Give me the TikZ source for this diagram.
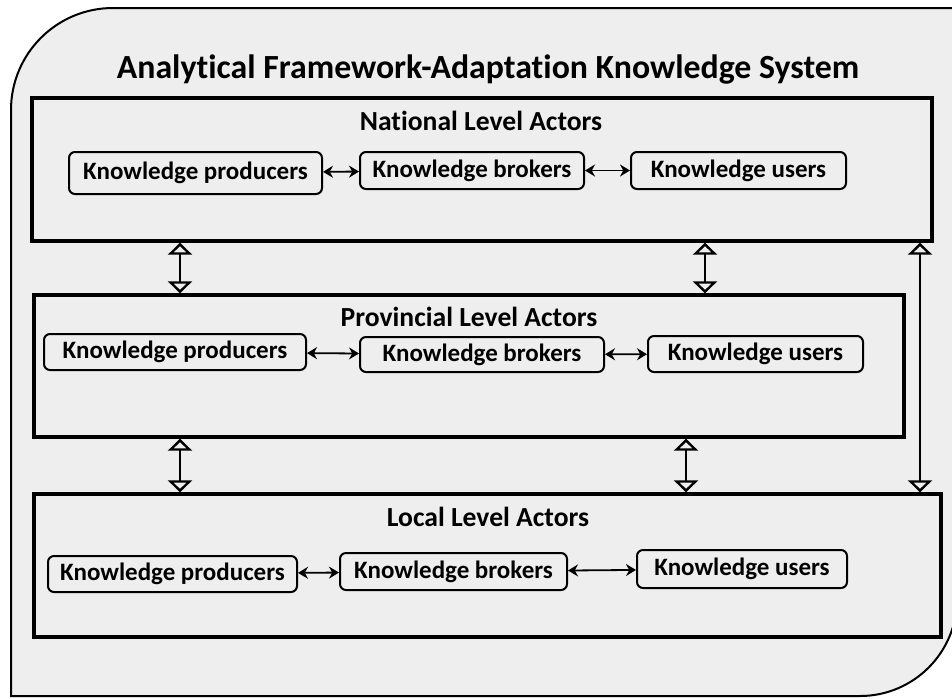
\documentclass[tikz,border=0pt]{standalone}
\usepackage{fontspec}
\setmainfont{Carlito}[Ligatures=CommonOff]
\usepackage{tikz}
\usetikzlibrary{arrows.meta,positioning,fit}
\definecolor{panel}{HTML}{EEEEEE}
\tikzset{font=\bfseries\fontsize{12.5}{15}\selectfont}
\tikzstyle{actor}=[draw,rounded corners=3pt,line width=1pt,inner sep=0pt,minimum height=18.5pt]
\tikzstyle{level}=[draw,line width=1.7pt,inner sep=0pt]
\tikzstyle{head}=[font=\bfseries\fontsize{13.8}{16}\selectfont,anchor=base]
\tikzstyle{link}=[{Stealth[length=5pt,width=6pt]}-{Stealth[length=5pt,width=6pt]},line width=0.9pt]
\tikzstyle{flow}=[double=panel,double distance=2.8pt,line width=1.2pt,
  {Triangle[open,length=6pt,width=12pt,line width=1.2pt 0]}-{Triangle[open,length=6pt,width=12pt,line width=1.2pt 0]}]

\begin{document}
\begin{tikzpicture}[x=0.5pt,y=-0.5pt]
\useasboundingbox (0,0) rectangle (952,698);
\clip (0,0) rectangle (952,698);
% outer frame
\draw[line width=1pt,fill=panel] (11,696) -- (11,110) arc[start angle=180,end angle=90,radius=51pt]
  -- (957,8) -- (957,599) arc[start angle=0,end angle=-90,radius=48.5pt] -- cycle;
\node[anchor=base,font=\bfseries\fontsize{16.9}{20}\selectfont] (title) at (488,78)
  {Analytical Framework-Adaptation Knowledge System};
% levels
\node[level,fit={(32,98) (932,241)}] (N) {};
\node[level,fit={(34,295) (904,437)}] (P) {};
\node[level,fit={(34,494) (941,637)}] (L) {};
\node[head] (Nt) at (481,130) {National Level Actors};
\node[head] (Pt) at (469,326) {Provincial Level Actors};
\node[head] (Lt) at (488,526) {Local Level Actors};
% actors
\node[actor,minimum width=126.5pt,minimum height=21pt] (NP) at (195.5,173) {Knowledge producers};
\node[actor,minimum width=112pt] (NB) at (472,170.5) {Knowledge brokers};
\node[actor,minimum width=107.5pt] (NU) at (738.5,170.5) {Knowledge users};
\node[actor,minimum width=131pt,minimum height=18pt] (PP) at (175,352) {Knowledge producers};
\node[actor,minimum width=122pt,minimum height=17.5pt] (PB) at (482,354.5) {Knowledge brokers};
\node[actor,minimum width=107.5pt,minimum height=18pt] (PU) at (755.5,354) {Knowledge users};
\node[actor,minimum width=124.5pt,minimum height=18pt] (LP) at (172.5,574) {Knowledge producers};
\node[actor,minimum width=113.5pt] (LB) at (453.5,571.5) {Knowledge brokers};
\node[actor,minimum width=105pt,minimum height=19pt] (LU) at (742,569) {Knowledge users};
\path[link]
(NP) edge (NB)
(NB) edge (NU)
(PP) edge (PB)
(PB) edge (PU)
(LP) edge (LB)
(LB) edge (LU);
% between levels
\coordinate (x1) at (180,0);
\coordinate (x2) at (705,0);
\coordinate (x3) at (686,0);
\coordinate (x4) at (920,0);
\path[flow]
(N.south -| x1) edge (P.north -| x1)
(N.south -| x2) edge (P.north -| x2)
(P.south -| x1) edge (L.north -| x1)
(P.south -| x3) edge (L.north -| x3)
(N.south -| x4) edge (L.north -| x4);
\end{tikzpicture}
\end{document}
